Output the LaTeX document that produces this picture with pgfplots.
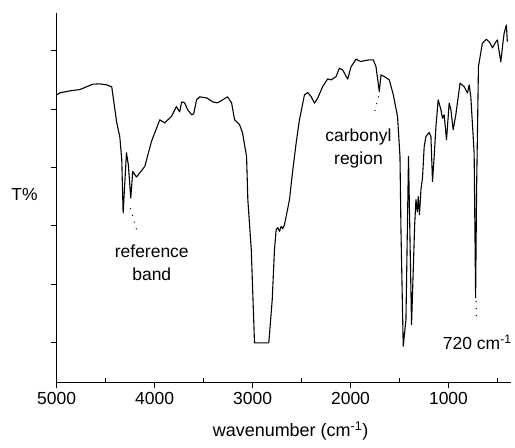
\documentclass[border=0pt]{standalone}
\usepackage{fontspec}
\setmainfont{Liberation Sans}
\usepackage{pgfplots}
\pgfplotsset{compat=1.18}
\begin{document}
\begin{tikzpicture}
\begin{axis}[
  at={(0,0)}, anchor=south west,
  scale only axis, width=455pt, height=370pt,
  x dir=reverse, xmin=362, xmax=5000,
  ymin=0, ymax=370,
  axis lines=left, axis line style={-, line width=1pt},
  xtick={1000,2000,3000,4000,5000},
  ytick={40,98.4,156.8,215.2,273.6,332},
  yticklabels={},
  tick align=outside, major tick length=6pt,
  tick style={line width=0.9pt, black},
  extra x ticks={500,1500,2500,3500,4500},
  extra x tick labels={},
  extra x tick style={tick align=inside, major tick length=4pt},
  /pgf/number format/assume math mode=true,
  /pgf/number format/set thousands separator={},
  xticklabel style={font=\fontsize{17.5}{20}\selectfont},
  clip=false,
]
\addplot[black, line width=1.1pt, line join=round] table {
5000 288
4966 290
4864 292
4763 293.3
4630 298.7
4559 299
4488 298
4437 296
4426 288
4386 260
4355 246
4335 223
4321 169.7
4287 230
4268 218
4243 184.7
4223 211.3
4185 205.7
4100 216.3
4032 241.3
3947 263
3897 260
3828 266.3
3777 276.3
3744 271
3723 281
3693 280
3662 273
3621 268
3601 269
3571 283
3540 286
3469 285
3408 281
3357 280
3306 283
3255 286
3214 280
3183 263
3132 258
3102 250
3061 226
3048 183
3013 133
2980 39.7
2834 39.7
2799 83
2776 133
2759 153
2742 155
2725 151.3
2708 156.3
2691 154
2674 158
2623 183
2589 213
2555 239.7
2521 263
2470 288
2437 290.3
2402 286.3
2368 279.7
2335 284.7
2284 296.3
2233 304
2198 303
2147 306.3
2114 314.7
2080 313
2029 303.7
1994 316.3
1943 323.7
1893 321.3
1859 322.3
1808 323
1767 323
1740 316.3
1706 291.3
1689 308
1655 306.3
1604 303
1563 288
1520 266.3
1495 226.3
1485 153
1462 36.3
1434 63
1408 226.3
1377 58
1345 158
1332 183
1318 171
1309 186
1296 168
1281 193
1265 205
1248 236
1230 246.3
1197 250.3
1179 246.3
1163 201.3
1146 226.3
1128 256.3
1105 283
1077 273
1061 264.7
1044 268
1020 243
993 279.7
975 273
952 253
925 268
882 299.7
840 296.3
806 289.7
789 298
772 286.3
738 230
723 85
713 193
694 316.3
654 339.7
613 343.7
575 340
551 335
517 341
501 343
466 321
443 341
432 349.7
409 358
399 341.3
};
\draw[black, line width=1.4pt, line cap=round, dash pattern=on 0pt off 7pt] (axis cs:4246,174) -- (axis cs:4172,149);
\draw[black, line width=1.4pt, line cap=round, dash pattern=on 0pt off 7pt] (axis cs:1716,286) -- (axis cs:1767,266);
\draw[black, line width=1.4pt, line cap=round, dash pattern=on 0pt off 7pt] (axis cs:718,81) -- (axis cs:713,61);
\end{axis}
\path (-56.7pt,-65pt) rectangle (458.3pt,383pt);
\node[font=\fontsize{17.5}{20}\selectfont] at (-32.2pt,188pt) {T\%};
\node[font=\fontsize{17.5}{23}\selectfont, align=center] at (95.3pt,119.5pt) {reference\\band};
\node[font=\fontsize{17.5}{23}\selectfont, align=center] at (302.3pt,234pt) {carbonyl\\region};
\node[font=\fontsize{17.5}{20}\selectfont] at (421.3pt,40pt) {720 cm\textsuperscript{-1}};
\node[font=\fontsize{18}{20}\selectfont] at (234.3pt,-48.7pt) {wavenumber (cm\textsuperscript{-1})};
\end{tikzpicture}
\end{document}
